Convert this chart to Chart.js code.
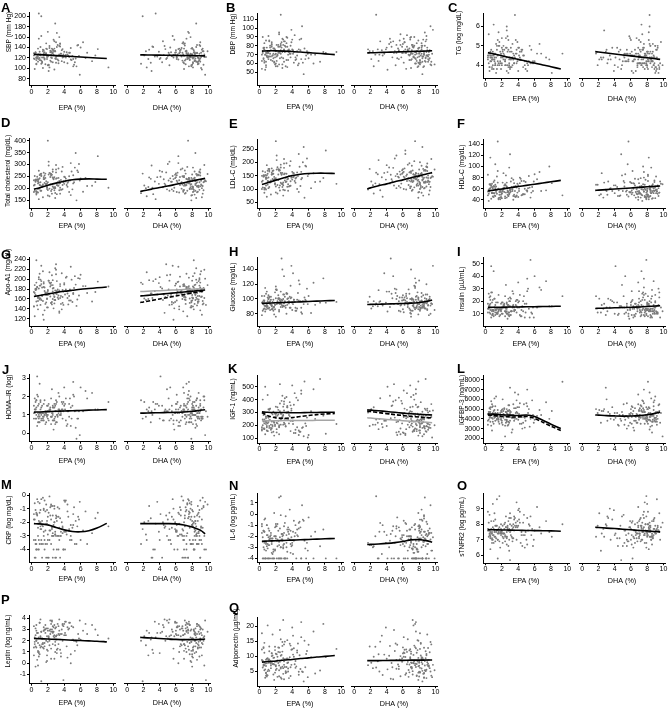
<!DOCTYPE html>
<html>
<head>
<meta charset="utf-8">
<script src="https://cdn.jsdelivr.net/npm/chart.js@4.4.1/dist/chart.umd.min.js"></script>
<style>
html, body { margin: 0; padding: 0; background: #fff; overflow: hidden; }
#fig { position: relative; width: 669px; height: 709px; overflow: hidden; }
#fig canvas { position: absolute; }
.lab { position: absolute; font: bold 13px "Liberation Sans", Arial, sans-serif; line-height: 13px; color: #000; }
.yt { position: absolute; font: 6.6px "Liberation Sans", Arial, sans-serif; white-space: nowrap; color: #000;
      transform: translate(-50%, -50%) rotate(-90deg); }
</style>
</head>
<body>
<div id="fig"></div>
<script>
// participants: erythrocyte EPA and DHA (%)
const epa = [
  0.4,1.2,2.3,0.8,3.1,1.7,2.9,0.5,4.2,1.9,
  2.6,0.7,3.5,5.1,1.4,2.2,0.9,3.8,2.7,1.1,
  4.6,0.6,1.8,3.3,2.5,5.6,1.3,0.3,2.9,4.1,
  1.6,3.7,2.1,0.8,6.3,2.4,1.0,3.0,4.8,1.5,
  2.8,0.5,3.4,5.4,2.0,1.2,7.4,2.6,3.9,0.9,
  1.7,4.4,2.3,0.4,3.2,5.8,1.4,2.9,0.7,3.6,
  2.2,4.9,1.1,3.1,0.6,2.5,5.2,1.9,8.1,2.7,
  0.8,3.5,1.6,4.3,2.1,0.5,3.8,6.0,1.3,2.4,
  4.6,0.9,3.0,1.8,5.5,2.6,0.3,3.3,9.4,1.5,
  2.0,4.0,1.0,3.4,5.9,2.8,0.6,4.5,1.2,6.8,
  1.3,2.7,0.6,3.9,2.2,1.0,4.7,3.1,0.4,2.5,
  1.9,5.3,2.8,0.7,3.6,1.5,2.0,4.1,1.1,3.2,
  0.5,2.4,3.7,1.8,6.6,2.9,1.2,4.4,0.8,3.0,
  2.3,1.6,5.0,3.4,0.9,2.6,4.0,1.4,7.8,2.1,
  3.5,0.6,1.7,4.8,2.8,1.0,3.3,5.7,2.0,0.3,
  1.5,3.8,2.4,0.8,4.2,3.0,1.9,2.6,5.1,1.1
];
const dha = [
  7.8,8.4,6.5,9.1,3.2,7.2,8.8,5.4,7.6,8.1,
  4.3,8.6,7.0,6.1,9.3,2.4,8.0,7.4,5.8,8.9,
  6.8,1.7,7.9,8.3,4.9,7.1,9.0,6.4,8.5,3.7,
  7.7,8.2,5.2,9.5,6.9,8.7,7.3,2.9,8.0,6.2,
  9.2,7.5,4.6,8.4,7.0,5.6,8.8,6.6,9.7,3.5,
  7.9,8.1,6.0,7.4,8.6,5.0,9.1,7.2,4.1,8.3,
  6.7,8.9,2.1,7.6,8.2,5.9,9.4,7.8,6.3,4.5,
  8.5,7.1,9.0,6.5,3.0,8.0,7.7,5.3,8.7,9.9,
  6.1,7.3,4.8,8.4,7.9,2.7,9.2,6.8,8.1,5.7,
  7.5,3.9,8.8,6.9,9.6,7.0,8.3,5.5,1.9,8.6,
  8.0,7.3,8.7,6.2,9.0,7.7,5.1,8.4,7.0,9.3,
  6.6,8.1,4.4,7.5,8.9,6.0,7.9,3.4,8.5,7.2,
  9.1,5.7,8.3,6.8,7.6,2.3,8.8,7.4,6.4,9.5,
  7.1,8.2,5.5,7.8,4.0,8.6,6.9,9.2,7.5,8.0,
  3.1,7.7,8.4,6.3,9.4,5.9,7.0,8.9,6.7,8.1,
  7.3,4.7,8.6,7.9,6.1,9.0,2.6,8.3,7.6,5.2
];

// outcomes, same participants
const sbp = [
  128,115,134,122,141,108,119,131,126,137,
  112,124,147,118,133,102,127,121,155,116,
  130,109,138,125,120,144,113,129,186,123,
  117,135,106,127,150,121,132,111,139,125,
  98,129,143,119,124,162,114,136,122,205,
  127,110,131,118,145,124,101,133,120,128,
  139,116,125,168,121,130,107,122,137,126,
  113,148,119,131,95,127,124,140,111,133,
  122,157,118,129,104,136,125,115,102,121,
  170,132,120,127,88,138,116,124,200,130,
  121,134,108,127,143,116,130,124,99,138,
  125,112,152,119,128,135,106,123,141,117,
  130,126,114,148,120,133,109,127,138,122,
  115,131,124,160,118,129,112,136,125,107,
  142,121,128,117,133,126,110,145,123,119,
  129,137,113,126,121,150,118,131,104,127
];
const dbp = [
  74,68,79,62,85,71,66,77,73,59,
  82,70,64,88,75,57,72,80,67,91,
  69,76,61,83,72,65,78,54,87,71,
  63,74,81,58,70,95,67,76,60,84,
  73,66,79,48,71,86,62,75,98,69,
  77,64,72,90,57,74,68,81,53,76,
  70,87,65,73,61,79,102,67,72,84,
  56,75,69,92,63,78,71,66,80,59,
  74,68,85,62,77,115,70,64,73,81,
  60,76,67,89,71,55,78,65,74,70,
  71,78,63,84,69,74,58,80,72,66,
  76,61,88,70,73,82,57,75,68,79,
  65,93,71,77,60,74,85,67,72,62,
  81,69,75,56,78,71,87,64,73,68,
  70,83,66,76,59,72,90,69,74,63,
  79,67,73,86,61,75,70,80,65,72
];
const tg = [
  4.5,4.1,4.8,3.9,4.3,5.2,4.0,4.6,4.4,3.8,
  4.9,4.2,4.5,3.7,5.0,4.3,4.7,4.1,5.5,4.4,
  3.9,4.6,4.2,5.1,4.0,4.8,3.6,4.5,4.3,4.9,
  4.1,5.3,4.4,3.8,4.6,4.2,6.1,4.7,4.0,4.5,
  4.8,3.9,4.3,5.0,4.1,4.6,4.4,3.7,5.2,4.3,
  4.0,4.7,4.5,5.6,3.9,4.2,4.8,4.1,4.4,6.6,
  4.6,3.8,4.3,4.9,4.2,5.4,4.0,4.5,3.6,4.7,
  4.4,4.1,5.0,4.3,4.8,3.9,4.6,4.2,5.1,4.0,
  4.5,4.3,3.8,4.7,4.1,5.8,4.4,4.0,4.6,4.2,
  4.9,3.7,4.5,4.3,4.1,5.3,4.4,4.8,4.0,4.6,
  4.4,4.0,4.7,4.2,5.0,3.8,4.5,4.3,4.1,4.9,
  4.6,4.2,3.9,4.8,4.4,5.3,4.0,4.5,4.2,4.7,
  3.7,4.3,4.6,4.1,5.1,4.4,4.0,4.8,4.3,3.9,
  4.5,5.7,4.2,4.6,4.0,4.4,4.9,3.8,4.3,4.7,
  4.1,4.5,5.0,4.2,3.6,4.6,4.4,4.1,5.4,4.3,
  4.0,4.8,4.2,4.5,4.7,3.9,4.4,6.0,4.1,4.6
];
const tc = [
  215,190,248,232,176,262,205,228,241,198,
  270,184,222,255,210,167,238,290,203,226,
  251,180,218,244,196,275,209,234,160,247,
  223,195,312,229,186,258,214,240,172,266,
  201,236,220,348,193,252,211,279,230,155,
  244,207,263,190,226,302,217,181,249,235,
  199,271,212,243,188,257,226,205,335,238,
  221,178,254,214,296,231,197,242,208,260,
  185,224,267,230,150,246,212,283,203,239,
  400,219,256,192,233,247,174,228,262,210,
  208,241,186,226,265,199,233,214,252,178,
  221,287,205,238,194,247,170,229,260,212,
  236,189,271,216,244,201,255,223,183,298,
  217,240,196,231,274,208,249,163,227,258,
  203,235,219,306,192,243,211,268,226,185,
  239,214,254,198,232,279,206,245,221,190
];
const ldl = [
  132,108,155,142,96,170,125,147,160,118,
  181,103,139,165,128,84,152,205,121,144,
  163,99,135,158,114,188,127,150,76,161,
  138,112,226,145,104,172,131,156,90,178,
  119,152,137,258,110,166,129,192,147,72,
  158,124,175,107,143,215,133,98,164,150,
  116,184,129,159,105,171,142,122,245,154,
  138,94,168,131,209,148,113,157,125,174,
  101,141,180,146,68,162,128,197,120,155,
  280,136,169,109,149,161,87,144,176,127,
  128,156,105,143,182,117,149,133,167,95,
  139,201,121,153,110,162,88,145,176,127,
  151,106,188,132,160,115,171,140,99,213,
  134,157,112,146,190,124,165,80,142,174,
  119,150,136,232,108,158,129,185,141,101,
  155,130,169,114,147,196,122,161,137,104
];
const hdl = [
  58,47,66,52,73,44,61,55,80,49,
  63,42,70,57,51,88,46,62,54,75,
  50,67,41,59,84,53,64,48,98,56,
  60,45,71,53,77,43,65,58,50,92,
  55,68,47,62,52,104,57,44,69,61,
  49,74,54,38,63,56,82,51,66,46,
  59,72,48,55,116,53,61,45,70,57,
  52,64,43,78,56,60,47,86,54,68,
  50,63,122,57,44,71,55,62,48,145,
  58,66,52,40,73,54,61,49,67,56,
  57,49,68,53,62,45,74,59,51,66,
  54,83,47,63,56,71,43,60,52,79,
  58,46,65,55,90,50,61,48,69,53,
  62,41,57,76,52,64,45,58,100,55,
  49,67,54,60,47,72,56,63,51,85,
  59,48,66,53,70,57,44,61,55,64
];
const apoa1 = [
  172,158,185,164,196,150,177,168,203,161,
  181,147,190,170,156,214,163,178,141,187,
  166,193,153,174,208,159,183,145,222,169,
  176,139,197,162,186,152,211,171,157,194,
  165,180,132,189,168,227,155,175,148,200,
  173,162,191,125,179,167,216,158,184,150,
  170,199,161,176,238,154,182,143,195,169,
  163,186,137,205,171,178,152,209,166,188,
  157,181,230,168,146,198,174,160,185,118,
  176,192,159,135,201,164,179,149,190,172,
  168,182,155,175,193,161,179,170,188,149,
  173,206,158,184,166,191,143,176,199,163,
  180,152,212,169,186,158,196,171,139,219,
  165,183,154,177,204,160,189,128,174,197,
  162,181,170,225,151,187,167,202,178,145,
  184,164,193,156,179,210,160,188,172,148
];
const glucose = [
  94,88,101,91,97,84,106,93,99,86,
  110,90,95,82,103,97,89,118,92,100,
  87,96,79,108,93,99,85,104,91,135,
  96,88,113,94,81,101,97,90,125,92,
  98,86,107,93,76,102,95,89,145,91,
  99,84,105,96,88,114,92,100,83,97,
  94,120,87,103,91,98,80,109,95,155,
  90,101,86,96,112,93,88,104,97,85,
  99,92,131,89,102,94,78,107,96,91,
  117,95,87,100,93,140,98,84,103,92,
  93,99,87,102,95,90,108,96,84,100,
  92,97,89,115,94,86,101,93,105,91,
  98,83,103,95,122,90,96,88,107,94,
  100,87,97,92,110,95,85,99,128,93,
  96,104,89,98,91,102,80,97,113,95,
  90,101,94,86,99,106,92,97,88,100
];
const insulin = [
  14,9,18,12,22,8,16,11,25,13,
  19,7,15,28,10,17,13,21,6,15,
  12,24,9,16,33,11,19,14,8,20,
  13,17,10,27,15,12,44,9,18,14,
  11,23,16,7,19,13,36,10,15,21,
  14,8,17,26,12,15,10,20,48,13,
  16,11,22,9,18,14,30,12,16,10,
  19,13,25,8,15,17,11,40,14,12,
  20,9,16,13,53,18,11,15,24,10,
  14,19,12,17,7,22,13,16,11,29,
  13,17,10,21,15,8,24,12,16,11,
  18,14,9,27,13,19,10,15,22,12,
  16,8,20,14,31,11,17,13,9,23,
  15,12,18,26,10,14,35,11,16,19,
  12,21,14,7,17,13,28,10,15,18,
  11,16,24,13,9,20,14,12,38,15
];
const homa = [
  1.1,0.7,1.4,0.9,1.7,0.5,1.2,0.8,1.9,1.0,
  1.5,0.4,1.2,2.1,0.8,1.3,1.0,1.6,0.2,1.1,
  0.9,1.8,0.6,1.3,2.4,0.8,1.5,1.1,0.5,1.6,
  1.0,1.3,0.7,2.0,1.2,0.9,2.7,0.6,1.4,1.1,
  0.8,1.7,1.2,0.3,1.5,1.0,2.2,0.7,1.2,1.6,
  1.1,0.5,1.3,1.9,0.9,1.2,0.7,1.5,3.1,1.0,
  1.2,0.8,1.7,0.6,1.4,1.1,2.0,0.9,1.3,0.7,
  1.5,1.0,1.8,0.4,1.2,1.3,0.8,2.5,1.1,0.9,
  1.6,0.6,1.2,1.0,-0.3,1.4,0.8,1.1,1.7,0.7,
  1.0,1.5,0.9,1.3,-0.1,1.6,1.0,1.2,0.8,1.9,
  1.1,1.4,0.8,1.7,1.2,0.6,1.9,1.0,1.3,0.9,
  1.5,1.2,0.7,2.1,1.1,1.6,0.8,1.3,1.8,1.0,
  1.3,0.5,1.7,1.1,2.3,0.9,1.4,1.2,0.6,1.8,
  1.2,1.0,1.5,2.0,0.8,1.1,2.5,0.9,1.3,1.6,
  1.0,1.8,1.2,0.4,1.4,1.1,2.2,0.8,1.2,1.5,
  0.9,1.3,1.9,1.1,0.7,1.6,1.2,1.0,2.8,1.3
];
const igf1 = [
  245,180,320,210,410,150,275,230,360,195,
  290,130,250,470,205,340,225,155,390,260,
  185,300,120,240,520,215,330,170,280,235,
  200,380,145,265,310,190,435,220,160,295,
  255,175,350,115,270,240,560,205,315,185,
  230,140,285,400,195,260,165,345,500,215,
  275,150,325,210,245,370,180,290,135,255,
  225,305,190,450,170,280,235,125,330,200,
  265,160,385,220,540,245,185,300,210,175,
  290,235,155,340,105,270,215,415,195,250,
  240,290,175,330,215,155,395,250,200,310,
  265,185,430,230,280,145,345,210,260,190,
  300,130,270,225,480,205,320,165,255,365,
  235,285,150,340,195,245,510,180,275,220,
  250,170,305,125,260,215,420,195,290,160,
  230,355,185,270,140,315,205,250,445,225
];
const igfbp3 = [
  4400,3800,5100,4100,4700,3500,4900,4300,5600,3900,
  4600,3300,4200,5300,4000,4800,3700,5900,4500,4100,
  3600,5000,4300,2900,4700,4200,6300,3800,4400,5200,
  4000,4600,3400,5500,4300,3900,4800,7200,4100,4500,
  3700,5100,4400,3200,4900,4200,5700,3800,4600,4000,
  4300,3500,5000,4700,2600,4400,3900,5400,4100,6700,
  4500,3800,4900,4200,5200,3600,4600,4000,4800,3300,
  4400,5100,3700,4300,6000,4100,4700,3900,4500,2200,
  4200,5300,3800,4600,4000,5000,3400,4400,7800,4100,
  4700,3900,4300,5500,3600,4800,4200,3000,4600,4400,
  4300,4800,3700,5200,4100,3500,5500,4400,3900,4700,
  4200,5000,3400,5800,4000,4600,3800,4500,6100,4100,
  4700,3300,5100,4300,4900,3600,5300,4200,2800,4800,
  4400,3900,5600,4100,4600,3700,6500,4300,4000,5000,
  3800,4700,4200,3100,5400,4400,4100,5900,3600,4500,
  4900,4000,4300,5200,3500,4600,4800,3900,7000,4200
];
const crp = [
  -1.8,-3.3,-0.9,-2.4,-4.0,-1.2,-2.7,-3.6,-0.4,-2.1,
  -4.6,-1.5,-3.0,-2.2,-0.2,-3.3,-1.9,-2.8,-4.0,-1.1,
  -2.5,-3.6,-0.7,-1.6,-3.0,-2.3,-4.6,-1.4,-2.9,-0.5,
  -3.3,-2.0,-1.3,-4.0,-2.6,-0.8,-3.6,-1.7,-2.2,-3.0,
  -1.0,-4.6,-2.4,-1.9,-3.3,-0.3,-2.8,-1.5,-4.0,-2.1,
  -3.6,-1.2,-2.6,-0.6,-3.0,-1.8,-2.3,-4.6,-1.4,-2.7,
  -0.1,-3.3,-2.0,-1.6,-4.0,-2.5,-0.9,-3.6,-1.3,-2.2,
  -3.0,-1.7,-0.4,-2.9,-4.6,-1.1,-2.4,-3.3,-1.9,-0.7,
  -2.6,-4.0,-1.5,-2.1,-3.6,-0.8,-1.8,-3.0,-2.3,-1.0,
  -4.6,-2.7,-1.3,-3.3,-0.5,-2.0,-4.0,-1.6,-2.5,-3.6,
  -2.2,-3.0,-1.4,-4.0,-2.6,-0.6,-3.3,-1.9,-4.6,-2.4,
  -1.1,-3.6,-2.0,-0.3,-3.0,-2.7,-1.6,-4.0,-2.3,-0.9,
  -3.3,-1.8,-2.5,-4.6,-1.2,-2.9,-3.6,-0.7,-2.1,-3.0,
  -1.5,-4.0,-2.4,-1.0,-3.3,-2.8,-0.4,-3.6,-1.7,-2.2,
  -4.6,-1.3,-2.6,-3.0,-0.8,-2.0,-4.0,-1.6,-2.9,-3.3,
  -1.1,-2.3,-3.6,-0.5,-2.7,-4.6,-1.9,-3.0,-1.4,-2.5
];
const il6 = [
  -2.1,-4.0,-1.5,-2.7,-0.8,-3.2,-1.9,-4.0,-2.4,-1.2,
  -3.0,-0.4,-2.2,-4.0,-1.7,-2.9,-1.0,-3.5,-2.3,-4.0,
  -1.4,-2.6,0.1,-1.9,-4.0,-3.1,-2.0,-0.9,-2.8,-1.6,
  -4.0,-2.3,-1.1,-3.3,-2.0,1.5,-2.7,-4.0,-1.3,-2.5,
  -1.8,-3.0,-4.0,-0.6,-2.2,-1.5,-2.9,-4.0,-2.1,-1.0,
  -3.4,-1.7,-2.4,-4.0,-0.2,-2.6,-1.9,-3.1,-4.0,-1.4,
  -2.3,-0.7,-2.8,-4.0,-1.6,-2.1,0.8,-3.2,-4.0,-1.8,
  -2.5,-1.2,-3.6,-2.0,-4.0,-1.5,-2.7,-0.3,-2.2,-4.0,
  -1.9,-2.9,-1.1,-4.0,-2.4,1.6,-1.7,-3.0,-4.0,-2.2,
  -0.9,-2.6,-4.0,-1.4,-3.3,-2.0,-0.5,-4.0,-2.8,-1.6,
  -2.2,-4.0,-1.6,-2.9,-0.9,-3.1,-2.0,-4.0,-2.5,-1.3,
  -3.3,-0.5,-2.4,-4.0,-1.8,-2.7,-1.1,-3.6,-2.1,-4.0,
  -1.5,-2.8,0.4,-2.0,-4.0,-3.0,-2.3,-1.0,-2.6,-1.7,
  -4.0,-2.2,-1.2,-3.4,-1.9,-0.1,-2.8,-4.0,-1.4,-2.4,
  -1.6,-3.2,-4.0,-0.8,-2.3,-1.9,-2.6,-4.0,-2.0,-1.1,
  -3.5,-1.5,-2.5,-4.0,-0.6,-2.7,-2.0,-3.0,-4.0,-1.3
];
const stnfr2 = [
  7.6,7.2,8.0,7.4,8.4,6.9,7.7,7.3,8.8,7.5,
  7.1,8.2,7.6,6.7,7.9,7.4,9.3,7.0,7.8,7.5,
  8.1,7.2,6.5,7.7,8.5,7.3,7.9,7.6,7.0,8.3,
  7.4,7.8,6.8,7.5,9.1,7.2,7.7,8.0,7.3,5.8,
  7.6,8.6,7.1,7.9,7.4,6.9,8.2,7.5,7.8,7.0,
  9.8,7.3,7.7,8.1,7.2,6.6,7.6,8.4,7.4,7.9,
  7.1,7.5,8.7,7.3,6.4,7.8,7.6,8.0,7.2,7.7,
  7.0,8.3,7.5,6.8,7.9,7.4,9.4,7.6,7.1,8.1,
  7.3,7.8,5.7,7.5,8.5,7.2,7.7,6.9,8.0,7.4,
  7.6,8.9,7.3,7.8,7.0,8.2,7.5,6.6,7.9,7.4,
  7.5,7.9,7.1,8.2,7.4,6.8,8.6,7.6,7.2,7.8,
  7.3,8.0,6.6,7.7,8.4,7.0,7.5,9.0,7.2,7.9,
  7.6,6.9,8.1,7.4,7.8,6.3,8.3,7.5,7.1,8.7,
  7.4,7.7,7.0,8.0,7.3,6.7,7.9,9.6,7.5,7.2,
  8.5,7.3,7.8,6.5,7.6,8.2,7.1,7.7,7.4,8.8,
  7.0,7.9,7.3,6.8,8.1,7.5,7.7,7.2,8.4,7.6
];
const leptin = [
  2.3,1.5,3.0,2.7,0.9,3.4,1.9,2.5,3.7,1.2,
  2.8,0.3,2.1,3.2,1.7,2.9,0.6,3.5,2.4,1.4,
  3.1,2.0,0.1,2.6,3.8,1.6,2.2,3.3,1.0,2.7,
  1.8,3.0,2.4,-0.2,2.9,1.3,3.6,2.1,0.8,3.2,
  2.5,1.5,3.9,2.0,1.1,2.8,3.4,1.7,-1.5,2.3,
  3.0,0.5,2.6,1.9,3.5,2.2,1.4,3.1,2.7,0.9,
  1.6,3.3,2.4,1.2,2.9,3.7,2.0,0.2,2.5,3.2,
  1.8,2.6,3.0,1.5,2.3,-0.3,3.4,2.1,1.7,2.8,
  3.6,1.0,2.4,3.1,1.9,2.7,0.7,3.3,2.2,1.3,
  2.9,3.5,1.6,2.5,3.8,0.4,2.0,3.0,-1.6,2.6,
  2.2,2.8,1.4,3.3,2.0,0.8,3.6,2.5,1.7,3.0,
  2.4,1.1,3.4,2.7,0.6,2.9,1.9,3.7,2.3,1.3,
  3.1,0.4,2.6,2.0,3.5,1.6,2.8,3.2,1.0,2.4,
  3.8,1.5,2.1,2.9,0.9,3.3,2.5,1.8,3.0,2.2,
  1.2,3.4,2.7,0.0,2.3,3.6,1.7,2.6,3.1,1.4,
  2.9,2.0,3.5,1.1,2.5,3.2,0.7,2.8,2.1,3.9
];
const adiponectin = [
  8.2,5.1,11.4,6.7,14.8,3.9,9.3,7.2,12.6,4.5,
  10.1,2.8,7.9,16.3,6.0,9.8,3.2,13.5,8.6,5.5,
  11.9,7.0,2.1,9.1,18.7,6.3,8.0,12.2,4.1,10.5,
  7.4,14.1,5.8,3.5,9.6,6.9,20.2,8.3,4.8,11.0,
  6.5,13.0,7.7,1.6,10.8,8.9,5.2,15.6,7.1,3.7,
  9.4,6.1,12.9,8.5,4.4,11.7,7.5,22.0,5.6,9.0,
  3.1,10.3,7.8,6.4,14.4,8.1,4.9,12.0,9.7,2.5,
  8.8,5.9,17.2,7.3,10.6,6.8,3.4,13.8,8.4,5.3,
  11.2,7.6,2.3,9.5,15.1,6.2,8.7,4.6,12.4,10.0,
  7.0,19.5,5.0,9.2,3.0,11.5,8.0,6.6,13.2,4.2,
  7.8,10.4,5.3,12.1,8.6,3.6,14.2,9.0,6.2,11.3,
  8.1,4.7,13.4,7.5,2.7,10.9,6.6,16.8,8.9,5.0,
  12.7,3.3,9.6,7.2,18.2,6.0,11.6,8.4,4.3,13.9,
  7.7,10.2,5.7,15.3,9.1,2.9,12.3,6.9,20.7,8.2,
  4.9,11.1,7.4,3.8,14.7,9.3,6.4,10.7,5.4,17.6,
  8.0,6.3,12.8,4.5,9.8,7.1,13.1,5.9,21.3,8.7
];

// fitted curves
const epaFitX = [0.3, 1, 2, 3, 4, 5, 6, 7, 8, 9.2];
const dhaFitX = [1.6, 2, 3, 4, 5, 6, 7, 8, 9, 9.6];
const sbpFitEpa = [127, 126.4, 125.5, 124.6, 123.7, 122.8, 121.9, 121, 120.1, 119];
const sbpFitDha = [126, 125.9, 125.7, 125.4, 125.2, 125, 124.7, 124.5, 124.2, 124];
const dbpFitEpa = [74, 74.3, 74.3, 74, 73.5, 73, 72.3, 71.6, 70.9, 70];
const dbpFitDha = [72, 72.1, 72.4, 72.7, 73, 73.3, 73.6, 73.9, 74.2, 74.4];
const tgFitEpa = [4.65, 4.58, 4.49, 4.39, 4.30, 4.20, 4.11, 4.01, 3.92, 3.80];
const tgFitDha = [4.70, 4.68, 4.63, 4.58, 4.53, 4.48, 4.43, 4.38, 4.33, 4.30];
const tcFitEpa = [197, 203, 213, 222, 230, 236, 239, 240, 239, 238];
const tcFitDha = [187, 190, 197, 204, 210, 217, 224, 231, 238, 242];
const ldlFitEpa = [118, 124, 134, 143, 151, 156, 159, 160, 160, 159];
const ldlFitDha = [102, 105, 113, 120, 128, 135, 143, 150, 158, 162];
const hdlFitEpa = [56, 57.5, 59.6, 61.7, 63.9, 66, 68.1, 70.3, 72.4, 75];
const hdlFitDha = [57, 57.4, 58.4, 59.4, 60.4, 61.4, 62.4, 63.4, 64.4, 65];
const apoa1FitEpa = [165, 167, 170, 173, 175.5, 177.5, 179.5, 181, 182.5, 184];
const apoa1FitDha = [166, 166.5, 168, 169.5, 171, 172.5, 174, 175.5, 177, 178];
const apoa1FitDhaDash = [153, 154, 157, 160, 163, 166, 169, 172, 175, 177];
const apoa1FitDhaGrey = [175, 175.3, 176, 176.8, 177.5, 178.2, 179, 179.8, 180.5, 181];
const glucoseFitEpa = [94, 94.3, 94.8, 95.2, 95.7, 96.1, 96.6, 97, 97.5, 98];
const glucoseFitDha = [92.5, 92.6, 92.9, 93.2, 93.5, 93.8, 94.3, 95.3, 97, 98.5];
const insulinFitEpa = [15, 15.1, 15.2, 15.3, 15.4, 15.5, 15.6, 15.7, 15.8, 16];
const insulinFitDha = [14.2, 14.3, 14.5, 14.7, 14.9, 15.1, 15.4, 15.7, 16.1, 16.4];
const homaFitEpa = [1.15, 1.16, 1.18, 1.2, 1.21, 1.23, 1.24, 1.26, 1.27, 1.29];
const homaFitDha = [1.1, 1.1, 1.11, 1.12, 1.13, 1.14, 1.16, 1.2, 1.25, 1.28];
const igf1FitEpa = [305, 302, 300, 299, 298, 298, 299, 300, 301, 302];
const igf1FitEpaDash = [300, 275, 258, 255, 260, 268, 276, 283, 288, 292];
const igf1FitEpaGrey = [235, 235.5, 236, 236.5, 237, 237.5, 238, 238.5, 239, 240];
const igf1FitDha = [320, 318, 313, 307, 301, 295, 290, 286, 282, 280];
const igf1FitDhaDash = [310, 307, 299, 291, 283, 276, 269, 264, 260, 258];
const igf1FitDhaGrey = [258, 256, 251, 246, 241, 236, 231, 227, 223, 220];
const igfbp3FitEpa = [4500, 4480, 4420, 4380, 4350, 4400, 4250, 3850, 3450, 3000];
const igfbp3FitEpaDash = [4400, 4350, 4250, 4200, 4200, 4250, 4050, 3650, 3250, 2800];
const igfbp3FitDha = [4400, 4380, 4330, 4300, 4280, 4290, 4330, 4420, 4560, 4700];
const crpFitEpa = [-2.1, -2.12, -2.2, -2.38, -2.56, -2.68, -2.7, -2.62, -2.42, -2.08];
const crpFitDha = [-2.1, -2.1, -2.1, -2.1, -2.1, -2.12, -2.2, -2.35, -2.58, -2.85];
const il6FitEpa = [-2.45, -2.43, -2.41, -2.38, -2.35, -2.32, -2.29, -2.26, -2.23, -2.2];
const il6FitDha = [-2.75, -2.74, -2.7, -2.65, -2.58, -2.48, -2.33, -2.3, -2.42, -2.55];
const stnfr2FitEpa = [7.65, 7.64, 7.63, 7.62, 7.61, 7.6, 7.59, 7.58, 7.57, 7.55];
const stnfr2FitDha = [7.8, 7.79, 7.75, 7.72, 7.68, 7.64, 7.6, 7.57, 7.53, 7.51];
const leptinFitEpa = [2.2, 2.18, 2.15, 2.12, 2.09, 2.05, 2.02, 1.99, 1.96, 1.9];
const leptinFitDha = [2.3, 2.28, 2.24, 2.2, 2.16, 2.12, 2.1, 2.1, 2.12, 2.15];
const adiponectinFitEpa = [8, 8.2, 8.4, 8.7, 8.9, 9.2, 9.4, 9.7, 9.9, 10.2];
const adiponectinFitDha = [8.5, 8.5, 8.5, 8.55, 8.6, 8.6, 8.65, 8.65, 8.7, 8.7];

// axis ticks
const xTicks = [0, 2, 4, 6, 8, 10];
const sbpTicks = [80, 100, 120, 140, 160, 180, 200];
const dbpTicks = [50, 60, 70, 80, 90, 100, 110];
const tgTicks = [4, 5, 6];
const tcTicks = [150, 200, 250, 300, 350, 400];
const ldlTicks = [50, 100, 150, 200, 250];
const hdlTicks = [40, 60, 80, 100, 120, 140];
const apoa1Ticks = [120, 140, 160, 180, 200, 220, 240];
const glucoseTicks = [80, 100, 120, 140];
const insulinTicks = [10, 20, 30, 40, 50];
const homaTicks = [0, 1, 2, 3];
const igf1Ticks = [100, 200, 300, 400, 500];
const igfbp3Ticks = [2000, 3000, 4000, 5000, 6000, 7000, 8000];
const crpTicks = [-4, -3, -2, -1, 0];
const il6Ticks = [-4, -3, -2, -1, 0, 1];
const stnfr2Ticks = [6, 7, 8, 9];
const leptinTicks = [-1, 0, 1, 2, 3, 4];
const adiponectinTicks = [5, 10, 15, 20];

// layout: plot-area left edges per column
const epaLeft = [29, 257, 483];
const dhaLeft = [124, 351, 579];
const FONT = '"Liberation Sans", Arial, sans-serif';

const panels = [
  { k: 'A', col: 0, top: 12, axis: 86, tOff: 22, lx: 1, ly: 3, tx: 8.3, ty: 31.5, title: 'SBP (mm Hg)', y: sbp, ticks: sbpTicks, min: 67, max: 208,
    epaFits: [[sbpFitEpa, 's']], dhaFits: [[sbpFitDha, 's']] },
  { k: 'B', col: 1, top: 13, axis: 86, tOff: 21, lx: 226, ly: 3, tx: 232.3, ty: 33.5, title: 'DBP (mm Hg)', y: dbp, ticks: dbpTicks, min: 35, max: 117,
    epaFits: [[dbpFitEpa, 's']], dhaFits: [[dbpFitDha, 's']] },
  { k: 'C', col: 2, top: 13, axis: 79, tOff: 20, lx: 448, ly: 3, tx: 458.3, ty: 32.5, title: 'TG (log mg/dL)', y: tg, ticks: tgTicks, min: 3.3, max: 6.7,
    epaFits: [[tgFitEpa, 's']], dhaFits: [[tgFitDha, 's']] },
  { k: 'D', col: 0, top: 138, axis: 209, tOff: 17, lx: 1, ly: 117.7, tx: 6.7, ty: 171, title: 'Total cholesterol (mg/dL)', y: tc, ticks: tcTicks, min: 115, max: 411,
    epaFits: [[tcFitEpa, 's']], dhaFits: [[tcFitDha, 's']] },
  { k: 'E', col: 1, top: 139, axis: 209, tOff: 17, lx: 229, ly: 119, tx: 232, ty: 166.5, title: 'LDL-C (mg/dL)', y: ldl, ticks: ldlTicks, min: 27, max: 288,
    epaFits: [[ldlFitEpa, 's']], dhaFits: [[ldlFitDha, 's']] },
  { k: 'F', col: 2, top: 139, axis: 209, tOff: 17, lx: 457, ly: 119, tx: 460.7, ty: 166.5, title: 'HDL-C (mg/dL)', y: hdl, ticks: hdlTicks, min: 24, max: 149.5,
    epaFits: [[hdlFitEpa, 's']], dhaFits: [[hdlFitDha, 's']] },
  { k: 'G', col: 0, top: 257, axis: 326, tOff: 17.5, lx: 1, ly: 249.3, tx: 7.3, ty: 272, title: 'Apo-A1 (mg/dL)', y: apoa1, ticks: apoa1Ticks, min: 105, max: 244.7,
    epaFits: [[apoa1FitEpa, 's']], dhaFits: [[apoa1FitDhaGrey, 'g'], [apoa1FitDhaDash, 'd'], [apoa1FitDha, 's']] },
  { k: 'H', col: 1, top: 257, axis: 326, tOff: 17.5, lx: 229, ly: 246.7, tx: 232, ty: 287, title: 'Glucose (mg/dL)', y: glucose, ticks: glucoseTicks, min: 63, max: 157,
    epaFits: [[glucoseFitEpa, 's']], dhaFits: [[glucoseFitDha, 's']] },
  { k: 'I', col: 2, top: 257, axis: 326, tOff: 17.5, lx: 457, ly: 246.7, tx: 460.7, ty: 289, title: 'Insulin (µU/mL)', y: insulin, ticks: insulinTicks, min: 0, max: 55.3,
    epaFits: [[insulinFitEpa, 's']], dhaFits: [[insulinFitDha, 's']] },
  { k: 'J', col: 0, top: 374, axis: 442, tOff: 19, lx: 2, ly: 365, tx: 8.3, ty: 396.5, title: 'HOMA–IR (log)', y: homa, ticks: homaTicks, min: -0.46, max: 3.23,
    epaFits: [[homaFitEpa, 's']], dhaFits: [[homaFitDha, 's']] },
  { k: 'K', col: 1, top: 375, axis: 443, tOff: 18.5, lx: 228, ly: 364, tx: 232, ty: 399, title: 'IGF-1 (ng/mL)', y: igf1, ticks: igf1Ticks, min: 61, max: 591,
    epaFits: [[igf1FitEpaGrey, 'g'], [igf1FitEpaDash, 'd'], [igf1FitEpa, 's']], dhaFits: [[igf1FitDhaGrey, 'g'], [igf1FitDhaDash, 'd'], [igf1FitDha, 's']] },
  { k: 'L', col: 2, top: 375, axis: 443, tOff: 18.5, lx: 457, ly: 364, tx: 460.7, ty: 400, title: 'IGFBP-3 (ng/mL)', y: igfbp3, ticks: igfbp3Ticks, min: 1500, max: 8500,
    epaFits: [[igfbp3FitEpaDash, 'd'], [igfbp3FitEpa, 's']], dhaFits: [[igfbp3FitDha, 's']] },
  { k: 'M', col: 0, top: 493, axis: 563, tOff: 16, lx: 1, ly: 480, tx: 8.3, ty: 520, title: 'CRP (log mg/dL)', y: crp, ticks: crpTicks, min: -4.97, max: 0.15,
    epaFits: [[crpFitEpa, 's']], dhaFits: [[crpFitDha, 's']] },
  { k: 'N', col: 1, top: 493, axis: 563, tOff: 17, lx: 229, ly: 480.7, tx: 231.7, ty: 517, title: 'IL-6 (log pg/mL)', y: il6, ticks: il6Ticks, min: -4.39, max: 1.9,
    epaFits: [[il6FitEpa, 's']], dhaFits: [[il6FitDha, 's']] },
  { k: 'O', col: 2, top: 493, axis: 563, tOff: 17.5, lx: 457, ly: 480.7, tx: 460.7, ty: 527, title: 'sTNFR2 (log pg/mL)', y: stnfr2, ticks: stnfr2Ticks, min: 5.5, max: 10,
    epaFits: [[stnfr2FitEpa, 's']], dhaFits: [[stnfr2FitDha, 's']] },
  { k: 'P', col: 0, top: 615, axis: 684, tOff: 19, lx: 1, ly: 594.3, tx: 7.3, ty: 641, title: 'Leptin (log ng/mL)', y: leptin, ticks: leptinTicks, min: -1.82, max: 4.29,
    epaFits: [[leptinFitEpa, 's']], dhaFits: [[leptinFitDha, 's']] },
  { k: 'Q', col: 1, top: 617, axis: 686, tOff: 17.5, lx: 229, ly: 602.7, tx: 235, ty: 638, title: 'Adiponectin (µg/mL)', y: adiponectin, ticks: adiponectinTicks, min: 0, max: 23,
    epaFits: [[adiponectinFitEpa, 's']], dhaFits: [[adiponectinFitDha, 's']] }
];

const lineStyle = {
  s: { borderColor: '#000', borderWidth: 1.6, borderDash: [], order: 0 },
  d: { borderColor: '#000', borderWidth: 1.6, borderDash: [4, 2], order: 1 },
  g: { borderColor: '#a5a5a5', borderWidth: 1.5, borderDash: [], order: 1 }
};

Chart.defaults.font.family = FONT;
Chart.defaults.color = '#000';

const fig = document.getElementById('fig');

function makeChart(p, which) {
  const isEpa = which === 'epa';
  const xs = isEpa ? epa : dha;
  const fitX = isEpa ? epaFitX : dhaFitX;
  const fits = isEpa ? p.epaFits : p.dhaFits;
  const padL = isEpa ? 0 : 6, yW = isEpa ? 26 : 0, padT = 6, padR = 6;
  const plotW = 86, plotH = p.axis - p.top;
  const xH = p.tOff + 4.3;
  const w = padL + yW + plotW + padR;
  const h = Math.round(padT + plotH + xH);
  const left = (isEpa ? epaLeft[p.col] : dhaLeft[p.col]) - padL - yW;

  const c = document.createElement('canvas');
  c.width = w; c.height = h;
  c.style.left = left + 'px';
  c.style.top = (p.top - padT) + 'px';
  c.style.width = w + 'px';
  c.style.height = h + 'px';
  fig.appendChild(c);

  const datasets = fits.map(([ys, st]) => Object.assign({
    type: 'scatter',
    data: fitX.map((x, i) => ({ x: x, y: ys[i] })),
    showLine: true, pointRadius: 0, tension: 0.3, fill: false
  }, lineStyle[st]));
  datasets.push({
    type: 'scatter',
    data: p.y.map((v, i) => ({ x: xs[i], y: v })),
    pointRadius: 0.95, pointBackgroundColor: '#7a7a7a', pointBorderWidth: 0,
    order: 5
  });

  const tickFont = { size: 7, family: FONT };
  new Chart(c, {
    type: 'scatter',
    data: { datasets },
    options: {
      responsive: false,
      animation: false,
      events: [],
      layout: { padding: { left: padL, top: padT, right: padR, bottom: 0 } },
      plugins: { legend: { display: false }, tooltip: { enabled: false } },
      scales: {
        x: {
          type: 'linear',
          min: isEpa ? -0.3 : -0.4,
          max: 10.2,
          afterBuildTicks: s => { s.ticks = xTicks.map(v => ({ value: v })); },
          afterFit: s => { s.height = xH; },
          ticks: { font: tickFont, color: '#000', padding: 0, maxRotation: 0, autoSkip: false, callback: v => String(v) },
          grid: { drawOnChartArea: false, drawTicks: true, tickLength: 2, color: '#000', lineWidth: 1 },
          border: { display: true, color: '#000', width: 1 },
          title: { display: true, text: isEpa ? 'EPA (%)' : 'DHA (%)', color: '#000', padding: 0,
                   font: { size: 7.2, family: FONT, lineHeight: 1.2 } }
        },
        y: {
          type: 'linear',
          display: isEpa,
          min: p.min,
          max: p.max,
          afterBuildTicks: s => { s.ticks = p.ticks.map(v => ({ value: v })); },
          afterFit: s => { s.width = yW; },
          ticks: { font: tickFont, color: '#000', padding: 1, autoSkip: false, callback: v => String(v) },
          grid: { drawOnChartArea: false, drawTicks: true, tickLength: 2, color: '#000', lineWidth: 1 },
          border: { display: true, color: '#000', width: 1 }
        }
      }
    }
  });
}

panels.forEach(p => {
  makeChart(p, 'epa');
  makeChart(p, 'dha');
});

panels.forEach(p => {
  const lab = document.createElement('div');
  lab.className = 'lab';
  lab.textContent = p.k;
  lab.style.left = p.lx + 'px';
  lab.style.top = (p.ly - 1.7) + 'px';
  fig.appendChild(lab);

  const yt = document.createElement('div');
  yt.className = 'yt';
  yt.textContent = p.title;
  yt.style.left = p.tx + 'px';
  yt.style.top = p.ty + 'px';
  fig.appendChild(yt);
});
</script>
</body>
</html>
